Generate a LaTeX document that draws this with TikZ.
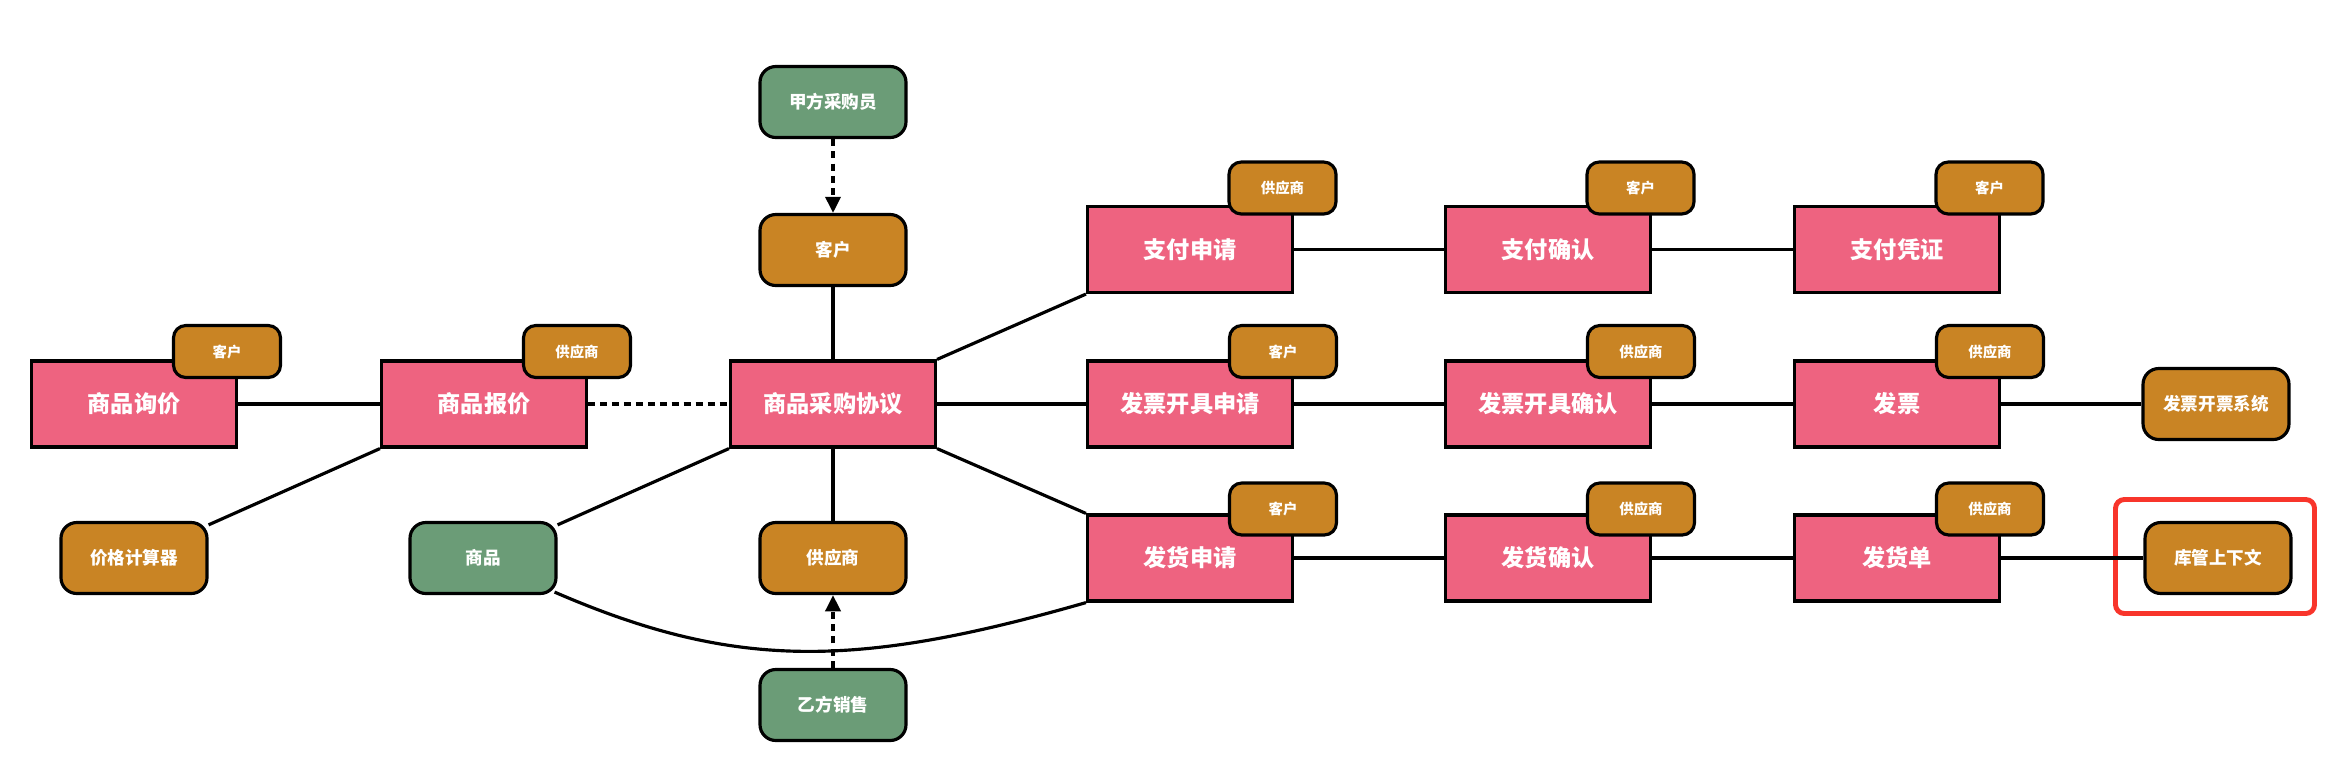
\documentclass[tikz,border=0pt]{standalone}
\usepackage{fontspec}
\newfontfamily\cjk{Noto Sans CJK SC}
\usetikzlibrary{arrows.meta}
\definecolor{ctxpink}{HTML}{EE6380}
\definecolor{ctxorange}{HTML}{C98424}
\definecolor{ctxgreen}{HTML}{6B9C77}
\definecolor{markred}{HTML}{F8352B}
\tikzset{
  ctx/.style={draw, line width=0.9pt, fill=ctxpink, minimum width=2.05cm, minimum height=0.86cm,
    inner sep=0pt, text=white, font=\cjk\bfseries\fontsize{6.6}{8}\selectfont},
  tag/.style={draw, line width=0.9pt, fill=ctxorange, rounded corners=3.5pt, minimum width=1.07cm,
    minimum height=0.52cm, inner sep=0pt, text=white, font=\cjk\bfseries\fontsize{4.1}{5}\selectfont},
  role/.style={draw, line width=0.9pt, fill=ctxorange, rounded corners=4.5pt, minimum width=1.46cm,
    minimum height=0.71cm, inner sep=0pt, text=white, font=\cjk\bfseries\fontsize{5}{6}\selectfont},
  actor/.style={role, fill=ctxgreen},
  link/.style={line width=0.9pt},
  dotlink/.style={line width=1pt, dash pattern=on 2pt off 1.4pt},
  dashlink/.style={line width=0.9pt, dash pattern=on 2pt off 1.5pt, -{Triangle[length=4.6pt,width=4.3pt]}},
  hilite/.style={draw=markred, line width=1.4pt, rounded corners=2.5pt, minimum width=1.99cm, minimum height=1.14cm},
}
\begin{document}
\begin{tikzpicture}

\useasboundingbox (0,0) rectangle (23.30,7.58);

\node[ctx] (inquiry) at (1.34,3.54) {商品询价};
\node[ctx] (quote) at (4.84,3.54) {商品报价};
\node[ctx] (agree) at (8.33,3.54) {商品采购协议};

\node[ctx] (payreq) at (11.90,5.085) {支付申请};
\node[ctx] (payok) at (15.48,5.085) {支付确认};
\node[ctx] (payvou) at (18.97,5.085) {支付凭证};

\node[ctx] (invreq) at (11.90,3.54) {发票开具申请};
\node[ctx] (invok) at (15.48,3.54) {发票开具确认};
\node[ctx] (invoice) at (18.97,3.54) {发票};

\node[ctx] (shipreq) at (11.90,2.00) {发货申请};
\node[ctx] (shipok) at (15.48,2.00) {发货确认};
\node[ctx] (shipnote) at (18.97,2.00) {发货单};

\node[actor] (buyer) at (8.33,6.56) {甲方采购员};
\node[role] (customer) at (8.33,5.08) {客户};
\node[role] (supplier) at (8.33,2.00) {供应商};
\node[actor] (seller) at (8.33,0.53) {乙方销售};
\node[role] (calc) at (1.34,2.00) {价格计算器};
\node[actor] (goods) at (4.83,2.00) {商品};
\node[role] (invsys) at (22.16,3.54) {发票开票系统};
\node[role] (stock) at (22.18,2.00) {库管上下文};
\node[hilite] (focus) at (22.15,2.015) {};

\draw[link] (inquiry) -- (quote);
\draw[dotlink] (quote) -- (agree);
\draw[link] (calc) -- (quote.south west);
\draw[link] (goods) -- (agree.south west);
\draw[link] (agree) -- (customer);
\draw[link] (agree) -- (supplier);
\draw[dashlink] (buyer) -- (customer);
\draw[dashlink] (seller) -- (supplier);
\draw[link] (agree.north east) -- (payreq.south west);
\draw[link] (agree) -- (invreq);
\draw[link] (agree.south east) -- (shipreq.north west);
\draw[link] ([shift={(-0.03,0.03)}]goods.south east) .. controls +(1.8,-0.78) and +(-2.3,-0.66) .. (shipreq.south west);

\draw[link] (payreq) -- (payok);
\draw[link] (payok) -- (payvou);
\draw[link] (invreq) -- (invok);
\draw[link] (invok) -- (invoice);
\draw[link] (invoice) -- (invsys);
\draw[link] (shipreq) -- (shipok);
\draw[link] (shipok) -- (shipnote);
\draw[link] (shipnote) -- (stock);

\node[tag] (inquiry-t) at (2.27,4.065) {客户};
\node[tag] (quote-t) at (5.77,4.065) {供应商};
\node[tag] (payreq-t) at (12.825,5.70) {供应商};
\node[tag] (payok-t) at (16.405,5.70) {客户};
\node[tag] (payvou-t) at (19.895,5.70) {客户};
\node[tag] (invreq-t) at (12.83,4.065) {客户};
\node[tag] (invok-t) at (16.41,4.065) {供应商};
\node[tag] (invoice-t) at (19.90,4.065) {供应商};
\node[tag] (shipreq-t) at (12.83,2.49) {客户};
\node[tag] (shipok-t) at (16.41,2.49) {供应商};
\node[tag] (shipnote-t) at (19.90,2.49) {供应商};

\end{tikzpicture}
\end{document}
